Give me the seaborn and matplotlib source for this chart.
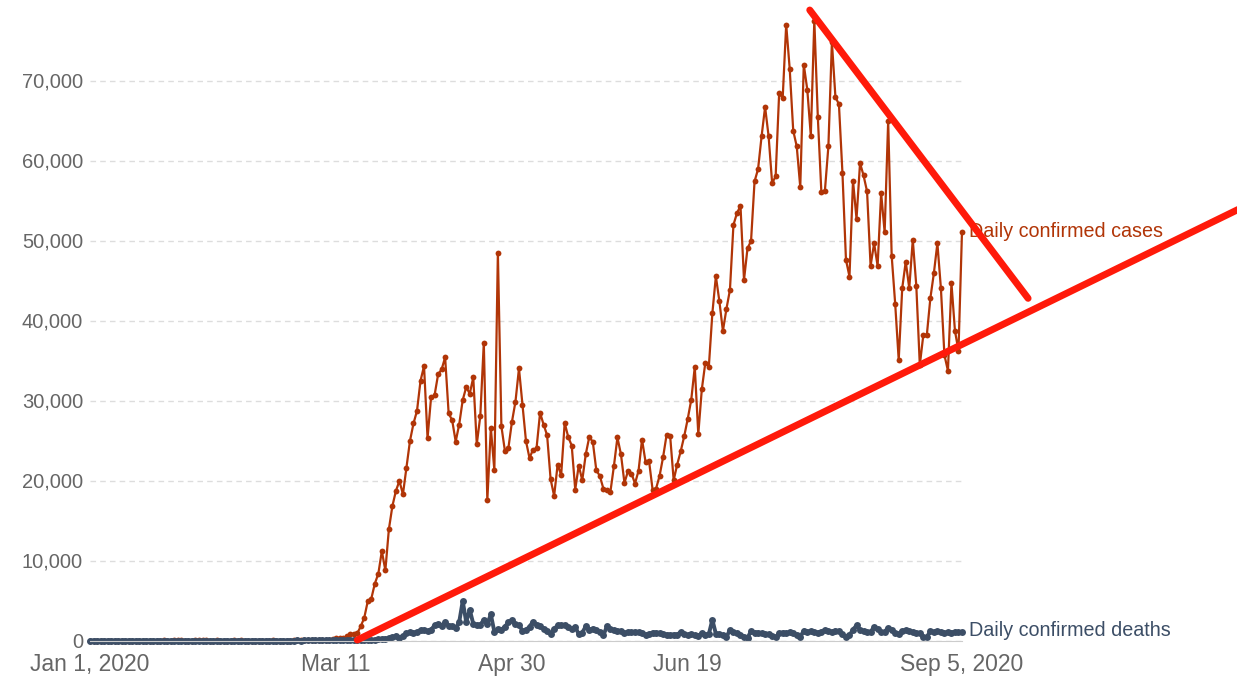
import pandas as pd
import matplotlib
matplotlib.use('Agg')
import matplotlib.pyplot as plt
import seaborn as sns

# daily values, Jan 1 2020 .. Sep 5 2020 (one per day)
cases_jan = [0, 0, 0, 0, 0, 0, 0, 0, 0, 0, 0, 0, 0, 0, 0, 0, 0, 0, 0, 0,
             0, 1, 0, 0, 1, 1, 3, 0, 0, 0, 1]
cases_feb = [1, 1, 3, 0, 0, 1, 0, 0, 0, 0, 1, 0, 1, 0, 0, 0, 0, 0, 0, 0,
             0, 19, 0, 0, 0, 0, 0, 3, 2]
cases_mar = [3, 20, 14, 22, 34, 74, 105, 95, 121, 200, 271, 287, 351, 511, 777, 823,
             887, 1766, 2840, 4920, 5220, 7100, 8350, 11180, 8760, 13900, 16800,
             18700, 19950, 18280, 21620]
cases_apr = [24950, 27130, 28710, 32470, 34300, 25290, 30390, 30670, 33260, 33890,
             35390, 28380, 27540, 24870, 27000, 30050, 31680, 30840, 32890, 24540,
             28040, 37220, 17530, 26580, 21280, 48490, 26790, 23700, 24080, 27330]
cases_may = [29840, 34010, 29420, 24910, 22800, 23870, 24040, 28460, 27000, 25660,
             20160, 18070, 22000, 20660, 27210, 25450, 24370, 18870, 21870, 20030,
             23290, 25450, 24830, 21280, 20570, 18990, 18780, 18570, 21790, 25380, 23290]
cases_jun = [19700, 21160, 20870, 19620, 21200, 25120, 22320, 22410, 18870, 19000,
             20600, 22950, 25750, 25540, 20030, 22000, 23660, 25540, 27710, 30100,
             34200, 25790, 31390, 34720, 34220, 40900, 45530, 42400, 38690, 41440]
cases_jul = [43820, 51960, 53420, 54340, 45070, 49040, 49920, 57380, 58930, 63020,
             66690, 63020, 57180, 58010, 68450, 67780, 77000, 71450, 63730, 61760,
             56670, 71990, 68860, 63100, 77500, 65390, 56050, 56170, 61760, 74790, 67940]
cases_aug = [67020, 58430, 47580, 45490, 57470, 52710, 59680, 58130, 56130, 46820,
             49660, 46820, 55920, 51040, 64900, 48080, 42070, 35060, 44030, 47360,
             44030, 50080, 44360, 34430, 38190, 38190, 42780, 45910, 49660, 44030, 35680]
cases_sep = [33720, 44660, 38690, 36220, 51120]

deaths_jan = [0, 0, 0, 0, 0, 0, 0, 0, 0, 0, 0, 0, 0, 0, 0, 0, 0, 0, 0, 0,
              0, 0, 0, 0, 0, 0, 0, 0, 0, 0, 0]
deaths_feb = [0, 0, 0, 0, 0, 0, 0, 0, 0, 0, 0, 0, 0, 0, 0, 0, 0, 0, 0, 0,
              0, 0, 0, 0, 0, 0, 0, 0, 1]
deaths_mar = [0, 1, 5, 1, 2, 2, 3, 4, 3, 4, 9, 7, 9, 10, 12, 18, 23, 40, 56, 49,
              46, 113, 141, 225, 247, 268, 400, 620, 363, 560, 910]
deaths_apr = [1050, 970, 1050, 1330, 1340, 1150, 1340, 1900, 2090, 1870, 2260, 1830,
              1760, 1540, 2300, 4930, 2300, 3850, 2090, 1960, 1960, 2590, 2090, 3260,
              1100, 1390, 1330, 1740, 2260, 2510]
deaths_may = [2030, 1900, 1250, 1300, 1740, 2350, 2000, 1760, 1500, 1190, 840, 1460,
              1880, 1880, 1880, 1630, 1440, 1670, 810, 1000, 1760, 1340, 1500, 1280,
              1050, 640, 1760, 1500, 1300, 1250, 1180]
deaths_jun = [920, 1100, 1050, 1100, 1050, 990, 650, 840, 1000, 990, 920, 840, 750,
              700, 750, 740, 1050, 850, 650, 780, 630, 600, 900, 750, 800, 2590, 840,
              840, 640, 420]
deaths_jul = [1340, 1100, 880, 750, 420, 330, 1170, 960, 1000, 900, 850, 760, 600,
              400, 900, 1000, 950, 1010, 900, 700, 430, 1250, 1120, 1130, 1100, 1000,
              1100, 1340, 1200, 1100, 1250]
deaths_aug = [1150, 800, 420, 650, 1370, 1880, 1300, 1200, 1050, 1100, 1670, 1400,
              1050, 1100, 1590, 1300, 900, 840, 1200, 1340, 1200, 1100, 1000, 920, 500,
              420, 1200, 1050, 1150, 1100, 900]
deaths_sep = [1050, 1000, 1100, 1050, 1050]

# hand-drawn red trend lines (day offset from Jan 1, value)
support_days = [76.0, 335.0]
support_values = [60, 55700]
resistance_days = [204.7, 266.8]
resistance_values = [78810, 42770]

tick_dates = ['2020-01-01', '2020-03-11', '2020-04-30', '2020-06-19', '2020-09-05']
tick_labels = ['Jan 1, 2020', 'Mar 11', 'Apr 30', 'Jun 19', 'Sep 5, 2020']
y_ticks = [0, 10000, 20000, 30000, 40000, 50000, 60000, 70000]

cases = (cases_jan + cases_feb + cases_mar + cases_apr + cases_may + cases_jun
         + cases_jul + cases_aug + cases_sep)
deaths = (deaths_jan + deaths_feb + deaths_mar + deaths_apr + deaths_may + deaths_jun
          + deaths_jul + deaths_aug + deaths_sep)
dates = pd.date_range('2020-01-01', periods=len(cases), freq='D')
df = pd.DataFrame({'date': dates, 'cases': cases, 'deaths': deaths})

case_color = '#b13507'
death_color = '#3c4e66'
grey = '#666666'

sns.set_style('white')
plt.rcParams['font.family'] = ['Liberation Sans', 'DejaVu Sans']

fig = plt.figure(figsize=(12.37, 6.76), dpi=100)
ax = fig.add_axes([90 / 1237, 35.5 / 676, 872 / 1237, 640 / 676])

sns.lineplot(data=df, x='date', y='cases', ax=ax, color=case_color, linewidth=1.6,
             marker='o', markersize=4.2, markeredgewidth=0, clip_on=False)
sns.lineplot(data=df, x='date', y='deaths', ax=ax, color=death_color, linewidth=2.8,
             marker='o', markersize=5, markeredgewidth=0, clip_on=False)

ax.set_xlim(dates[0], dates[-1])
ax.set_ylim(0, 80000)

ax.set_yticks(y_ticks)
ax.set_yticklabels(['{:,}'.format(v) for v in y_ticks])
ax.set_xticks(pd.to_datetime(tick_dates))
ax.set_xticklabels(tick_labels)
ax.tick_params(axis='y', length=0, pad=5, labelsize=14.5, labelcolor=grey)
ax.tick_params(axis='x', length=5, width=1, color='#cccccc', pad=4, labelsize=16.5,
               labelcolor=grey)
ax.grid(axis='y', color='#dddddd', linestyle=(0, (4, 3)), linewidth=1)
ax.grid(axis='x', visible=False)
for side in ['left', 'top', 'right']:
    ax.spines[side].set_visible(False)
ax.spines['bottom'].set_color('#cccccc')
ax.set_xlabel('')
ax.set_ylabel('')

ax.annotate('Daily confirmed cases', xy=(dates[-1], cases[-1]), xytext=(5, 0),
            textcoords='offset points', va='center', ha='left', fontsize=14.2,
            color=case_color, annotation_clip=False)
ax.annotate('Daily confirmed deaths', xy=(dates[-1], deaths[-1]), xytext=(5, 1),
            textcoords='offset points', va='center', ha='left', fontsize=14.2,
            color=death_color, annotation_clip=False)

start = pd.Timestamp('2020-01-01')
ax.plot([start + pd.Timedelta(days=d) for d in support_days], support_values,
        color='#ff1a0a', linewidth=5, solid_capstyle='round', clip_on=False, zorder=5)
ax.plot([start + pd.Timedelta(days=d) for d in resistance_days], resistance_values,
        color='#ff1a0a', linewidth=5, solid_capstyle='round', clip_on=False, zorder=5)

fig.savefig('out.png', dpi=100, facecolor='white')
